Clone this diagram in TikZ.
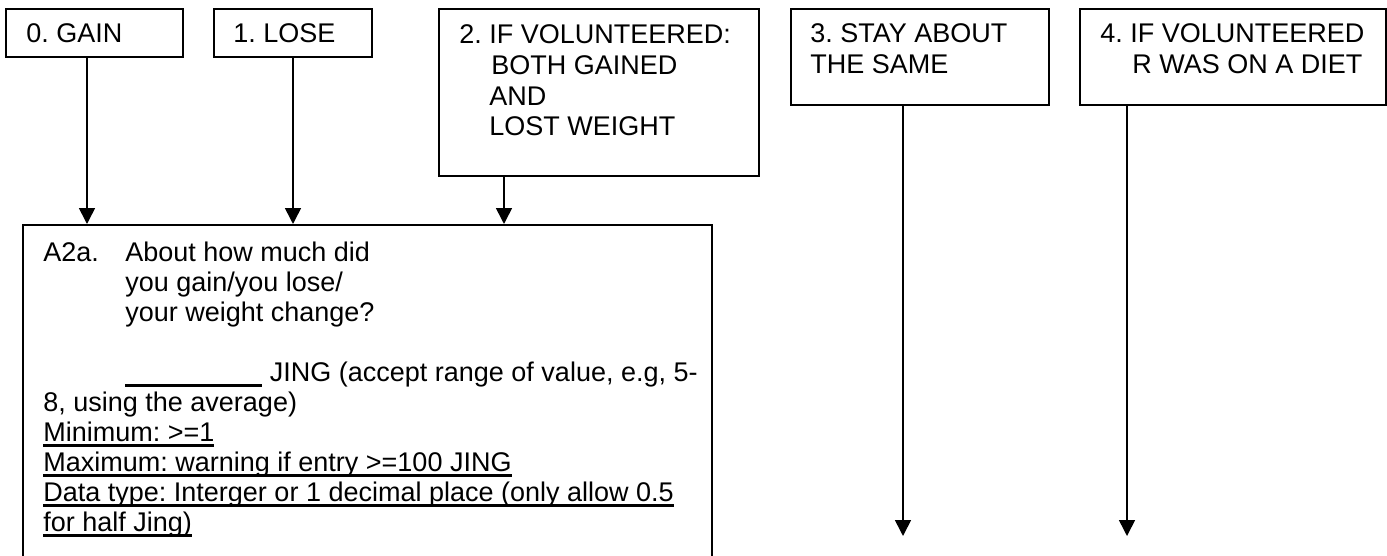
\documentclass[tikz,border=0pt]{standalone}
\usepackage{fontspec}
\setmainfont{Liberation Sans}
\usetikzlibrary{arrows.meta}
\frenchspacing
\newsavebox{\ulsave}
\newcommand{\ultext}[1]{\sbox{\ulsave}{#1}\rlap{\rule[-2.8pt]{\wd\ulsave}{1.1pt}}\usebox{\ulsave}}

\begin{document}
\begin{tikzpicture}[x=0.5pt,y=-0.5pt]
\tikzset{optbox/.style={draw=black,line width=1pt,anchor=north west,inner sep=0pt},
  opttext/.style={anchor=base west,align=left,inner sep=0pt,font=\fontsize{13.5}{15.5}\selectfont},
  arr/.style={black,line width=0.8pt,-{Triangle[width=8pt,length=8pt]}}}
\useasboundingbox (0,0) rectangle (1387,556);
\clip (0,0) rectangle (1387,556);
\node[optbox,minimum width=88.5pt,minimum height=24pt] (gain) at (5,8) {};
\node[opttext] at (26,43) {0. GAIN};
\node[optbox,minimum width=79pt,minimum height=24pt] (lose) at (213,8) {};
\node[opttext] at (233,43) {1. LOSE};
\node[optbox,minimum width=160pt,minimum height=83.5pt] (both) at (438,8) {};
\node[opttext] at (459,136) {2. IF VOLUNTEERED:\\\hspace*{16pt}BOTH GAINED\\\hspace*{15pt}AND\\\hspace*{15pt}LOST WEIGHT};
\node[optbox,minimum width=129pt,minimum height=48pt] (same) at (790,8) {};
\node[opttext] at (810,74) {3. STAY ABOUT\\THE SAME};
\node[optbox,minimum width=153pt,minimum height=48pt] (diet) at (1079,8) {};
\node[opttext] at (1100,74) {4. IF VOLUNTEERED\\\hspace*{16pt}R WAS ON A DIET};
\node[optbox,minimum width=344.5pt,minimum height=200pt] (a2a) at (22,224) {};
\node[opttext,font=\fontsize{13.5}{15}\selectfont] at (43,531) {\makebox[41pt][l]{A2a.}About how much did\\
\hspace*{41pt}you gain/you lose/\\
\hspace*{41pt}your weight change?\\
\mbox{}\\
\hspace*{41pt}\rule[-2.8pt]{68.5pt}{1.1pt} JING (accept range of value, e.g, 5-\\
8, using the average)\\
\ultext{Minimum: >=1}\\
\ultext{Maximum: warning if entry >=100 JING}\\
\ultext{Data type: Interger or 1 decimal place (only allow 0.5}\\
\ultext{for half Jing)}};
\coordinate (sameend) at (903,536);
\coordinate (dietend) at (1127,536);
\draw[arr] ([xshift=41pt]gain.south west) -- ([xshift=41pt]gain.south west |- a2a.north);
\draw[arr] ([xshift=40pt]lose.south west) -- ([xshift=40pt]lose.south west |- a2a.north);
\draw[arr] ([xshift=33pt]both.south west) -- ([xshift=33pt]both.south west |- a2a.north);
\draw[arr] (same.south -| sameend) -- (sameend);
\draw[arr] (diet.south -| dietend) -- (dietend);
\end{tikzpicture}
\end{document}
